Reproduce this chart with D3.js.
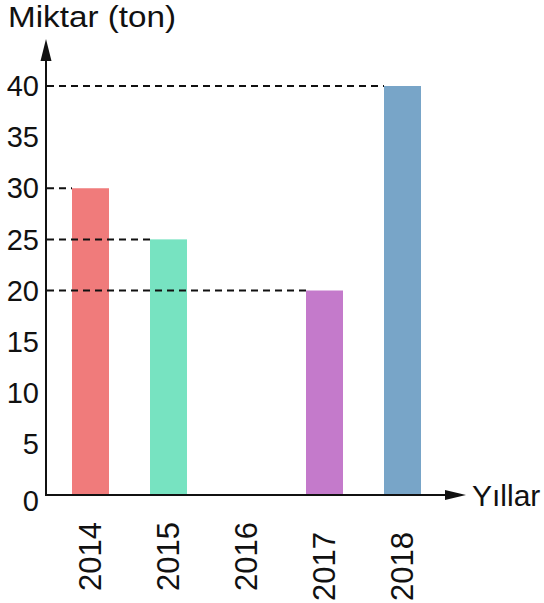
<!DOCTYPE html>
<html>
<head>
<meta charset="utf-8">
<script src="https://cdn.jsdelivr.net/npm/d3@7"></script>
<style>
  body { margin: 0; background: #fff; }
  text { font-family: "Liberation Sans", Arial, sans-serif; font-size: 29px; fill: #111; }
</style>
</head>
<body>
<script>
// chart data
var years = ["2014", "2015", "2016", "2017", "2018"];
var amounts = [30, 25, 0, 20, 40];
var colors = ["#f07b7b", "#77e3c1", "#ffffff", "#c47acb", "#78a5c8"];
var yTicks = [0, 5, 10, 15, 20, 25, 30, 35, 40];

var w = 544, h = 603;
var axisX = 46, axisY = 495;
var barWidth = 37;

var svg = d3.select("body")
  .append("svg")
  .attr("width", w)
  .attr("height", h);

var xScale = d3.scalePoint()
  .domain(years)
  .range([90.5, 402.5]);

var yScale = d3.scaleLinear()
  .domain([0, 40])
  .range([axisY, 86]);

// bars
svg.selectAll(".bar")
  .data(years)
  .enter()
  .append("rect")
  .attr("class", "bar")
  .attr("x", function(d) { return xScale(d) - barWidth / 2; })
  .attr("y", function(d, i) { return yScale(amounts[i]); })
  .attr("width", barWidth)
  .attr("height", function(d, i) { return axisY - yScale(amounts[i]); })
  .attr("fill", function(d, i) { return colors[i]; });

// dashed guide lines from axis to the bar
svg.selectAll(".guide")
  .data(years.filter(function(d, i) { return amounts[i] > 0; }))
  .enter()
  .append("line")
  .attr("x1", axisX + 1)
  .attr("x2", function(d) { return xScale(d) - barWidth / 2; })
  .attr("y1", function(d) { return yScale(amounts[years.indexOf(d)]); })
  .attr("y2", function(d) { return yScale(amounts[years.indexOf(d)]); })
  .attr("stroke", "#111")
  .attr("stroke-width", 2)
  .attr("stroke-dasharray", "7,5");

// y tick labels
svg.selectAll(".ytick")
  .data(yTicks)
  .enter()
  .append("text")
  .attr("x", 39)
  .attr("y", function(d) { return yScale(d) + (d == 0 ? 6 : 0); })
  .attr("dy", "0.35em")
  .style("text-anchor", "end")
  .text(function(d) { return d; });

// x labels, rotated
svg.selectAll(".xlabel")
  .data(years)
  .enter()
  .append("text")
  .attr("transform", function(d, i) {
    var top = i > 2 ? 532 : 522;
    return "translate(" + xScale(d) + "," + top + ") rotate(-90)";
  })
  .attr("dy", "0.35em")
  .style("text-anchor", "end")
  .style("font-size", "31px")
  .text(function(d) { return d; });

// axes
svg.append("line")
  .attr("x1", axisX).attr("x2", axisX)
  .attr("y1", axisY + 1).attr("y2", 55)
  .attr("stroke", "#111").attr("stroke-width", 2);

svg.append("line")
  .attr("x1", axisX - 1).attr("x2", 450)
  .attr("y1", axisY).attr("y2", axisY)
  .attr("stroke", "#111").attr("stroke-width", 2);

// arrow heads
svg.append("path")
  .attr("d", "M" + axisX + ",39 L" + (axisX - 5.5) + ",61 L" + (axisX + 5.5) + ",61 Z")
  .attr("fill", "#111");

svg.append("path")
  .attr("d", "M466," + axisY + " L445," + (axisY - 5) + " L445," + (axisY + 5) + " Z")
  .attr("fill", "#111");

// axis titles
svg.append("text")
  .attr("x", 8)
  .attr("y", 27)
  .attr("textLength", 168)
  .attr("lengthAdjust", "spacingAndGlyphs")
  .text("Miktar (ton)");

svg.append("text")
  .attr("x", 472)
  .attr("y", axisY)
  .attr("dy", "0.35em")
  .style("font-size", "30px")
  .text("Yıllar");
</script>
</body>
</html>
